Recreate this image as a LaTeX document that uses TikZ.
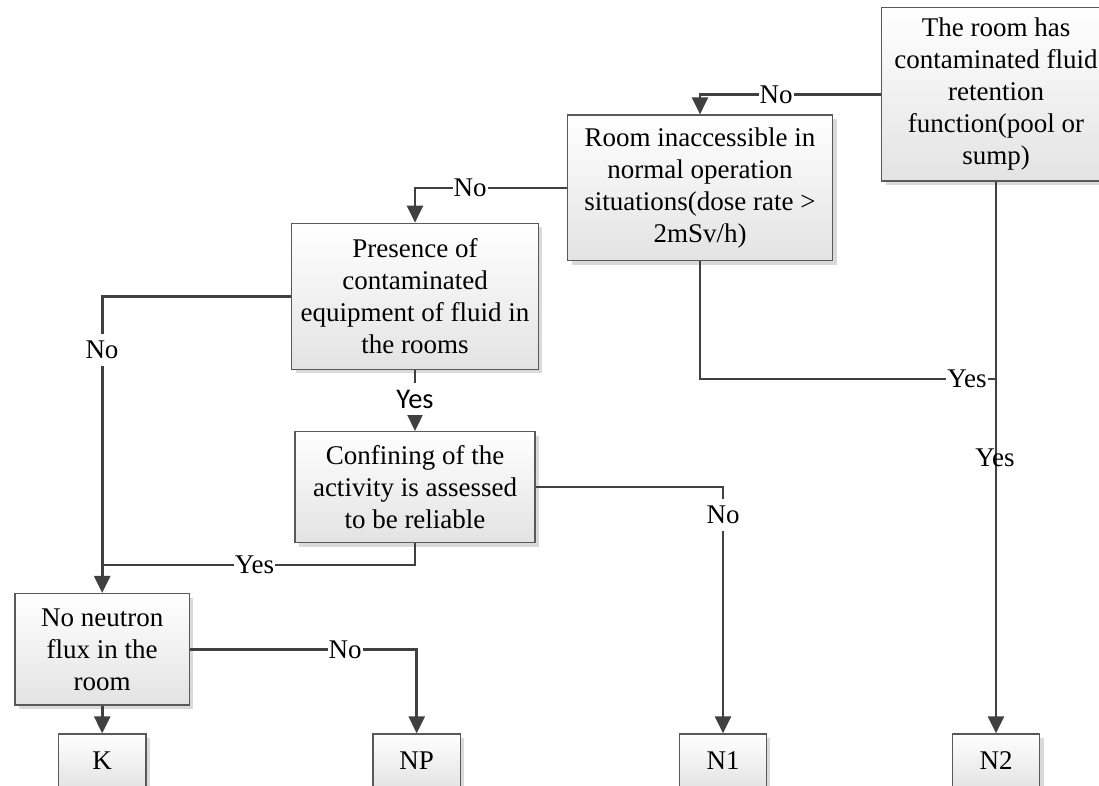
\documentclass[tikz,border=0pt]{standalone}
\usepackage{fontspec}
\setmainfont{Liberation Serif}
\newfontfamily\yesfont{Carlito}
\usetikzlibrary{arrows.meta,shadows}
\definecolor{linec}{HTML}{404040}
\definecolor{boxc}{HTML}{595959}
\definecolor{shadc}{HTML}{DADADA}
\begin{document}
\begin{tikzpicture}[x=1pt,y=-1pt,
  fbox/.style={draw=boxc,line width=1.3pt,top color=white,bottom color=black!11,
    align=center,inner sep=0pt,font=\fontsize{27}{32}\selectfont,
    drop shadow={shadow xshift=4pt,shadow yshift=-4pt,fill=shadc,opacity=1}},
  conn/.style={draw=linec,line width=2.6pt,-{Triangle[length=17pt,width=16pt]}},
  cline/.style={draw=linec,line width=2.6pt},
  lab/.style={fill=white,inner xsep=1pt,inner ysep=7pt,font=\fontsize{27}{32}\selectfont},
]
\useasboundingbox (0,0) rectangle (1099,785);
\clip (0,0) rectangle (1099,785);

% boxes
\node[fbox,minimum width=229pt,minimum height=173.7pt] (r1) at (996,94.2)
  {The room has\\contaminated fluid\\retention\\function(pool or\\sump)};
\node[fbox,minimum width=265pt,minimum height=145.5pt] (r2) at (700,187.8)
  {Room inaccessible in\\normal operation\\situations(dose rate >\\2mSv/h)};
\node[fbox,minimum width=246.7pt,minimum height=146pt] (r3) at (415,296.3)
  {Presence of\\contaminated\\equipment of fluid in\\the rooms};
\node[fbox,minimum width=240pt,minimum height=111pt] (r4) at (415,487.1)
  {Confining of the\\activity is assessed\\to be reliable};
\node[fbox,minimum width=174.3pt,minimum height=111.5pt] (r5) at (102.2,649.3)
  {No neutron\\flux in the\\room};
\node[fbox,minimum width=87.7pt,minimum height=54pt] (k) at (102.2,761) {K};
\node[fbox,minimum width=87.5pt,minimum height=54pt] (np) at (416.7,761) {NP};
\node[fbox,minimum width=86.5pt,minimum height=54pt] (n1) at (723,761) {N1};
\node[fbox,minimum width=87.3pt,minimum height=54pt] (n2) at (996,761) {N2};

% junction points
\coordinate (j2) at (996,379);
\coordinate (j1) at (102.2,565);

% connectors
\draw[conn] (r1.west) -| (r2.north);
\draw[conn] (r2.west) -| (r3.north);
\draw[cline] (r2.south) |- (j2);
\draw[conn] (r1.south) -- (n2.north);
\draw[conn] (r3.west) -| (r5.north);
\draw[conn] (r3.south) -- (r4.north);
\draw[cline] (r4.south) |- (j1);
\draw[conn] (r4.east) -| (n1.north);
\draw[conn] (r5.east) -| (np.north);
\draw[conn] (r5.south) -- (k.north);

% labels
\node[lab] (l1) at (776,95) {No};
\node[lab] (l2) at (470,188) {No};
\node[lab] (l3) at (967,379) {Yes};
\node[inner sep=0pt,font=\fontsize{27}{32}\selectfont] (l4) at (995,458) {Yes};
\node[lab] (l5) at (102,350) {No};
\node[lab,font=\yesfont\fontsize{28.5}{32}\selectfont] (l6) at (415,399) {Yes};
\node[lab] (l7) at (723,515) {No};
\node[lab] (l8) at (254.5,565) {Yes};
\node[lab] (l9) at (345,649.3) {No};
\end{tikzpicture}
\end{document}
